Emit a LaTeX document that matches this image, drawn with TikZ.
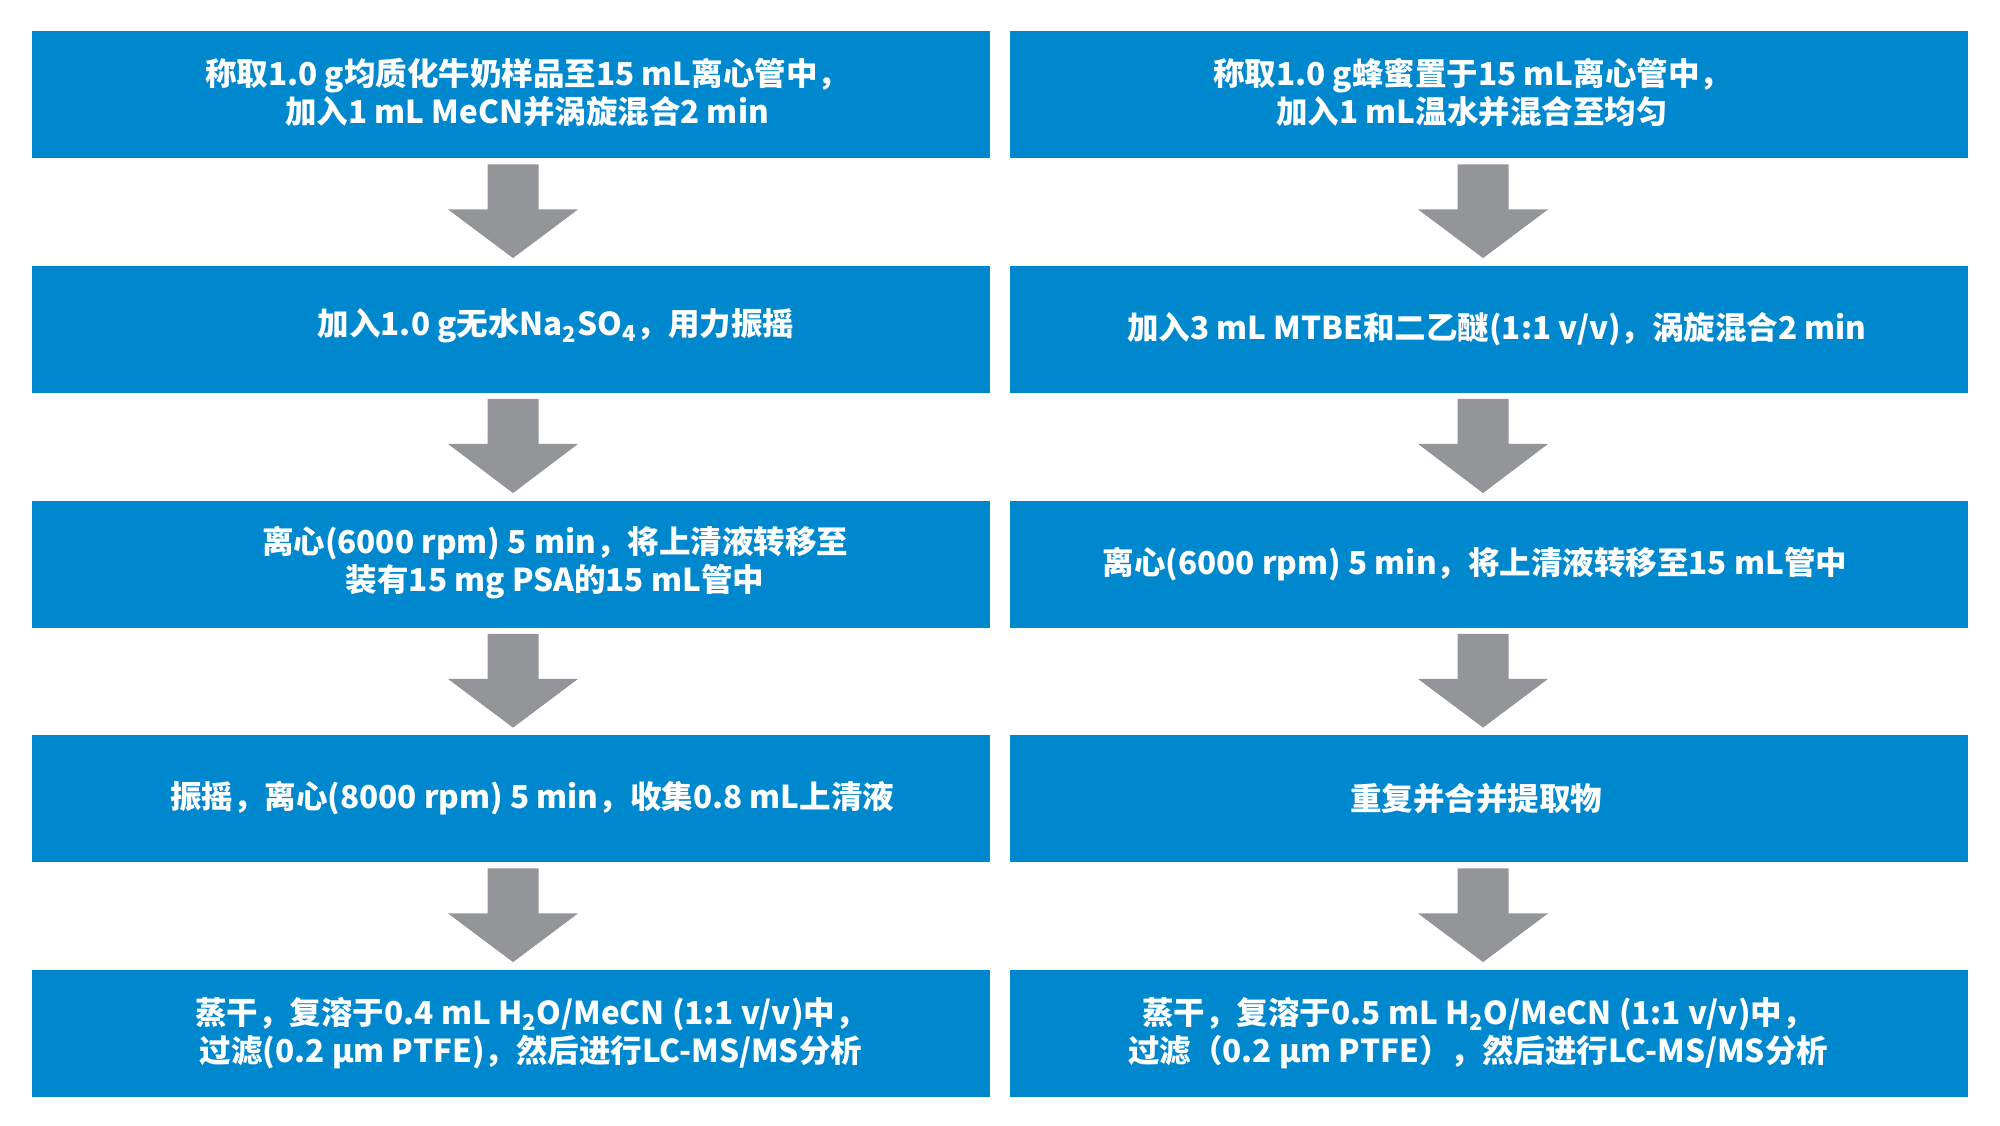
\documentclass[tikz,border=0pt]{standalone}
\usepackage{fontspec}
\newfontfamily\cjk{Noto Sans CJK SC}
\usetikzlibrary{calc}
\definecolor{boxblue}{RGB}{0,136,206}
\definecolor{arrowgrey}{RGB}{147,149,152}
\tikzset{
  stepbox/.style={fill=boxblue, draw=none, minimum width=479pt, minimum height=63.5pt, inner sep=0pt},
  steptext/.style={text=white, align=center, font=\cjk\bfseries\fontsize{15.75pt}{19pt}\selectfont, inner sep=0pt},
}
\begin{document}
\begin{tikzpicture}[x={(0.5pt,0)}, y={(0,-0.5pt)}]
\fill[white] (0,0) rectangle (2000,1125);
\useasboundingbox (0,0) rectangle (2000,1125);
% boxes
\foreach \i/\y in {1/94.5, 2/329, 3/564, 4/798.5, 5/1033} {
  \node[stepbox] (L\i) at (511,\y) {};
  \node[stepbox] (R\i) at (1489,\y) {};
}
% texts
\node[steptext] (tL1) at ($(L1.center)+(16,-2)$) {称取1.0 g均质化牛奶样品至15 mL离心管中，\\加入1 mL MeCN并涡旋混合2 min};
\node[steptext] (tL2) at ($(L2.center)+(45,-3)$) {加入1.0 g无水Na\textsubscript{2}SO\textsubscript{4}，用力振摇};
\node[steptext] (tL3) at ($(L3.center)+(44,-1)$) {离心(6000 rpm) 5 min，将上清液转移至\\装有15 mg PSA的15 mL管中};
\node[steptext] (tL4) at ($(L4.center)+(21,0)$) {振摇，离心(8000 rpm) 5 min，收集0.8 mL上清液};
\node[steptext] (tL5) at ($(L5.center)+(20,0)$) {蒸干，复溶于0.4 mL H\textsubscript{2}O/MeCN (1:1 v/v)中，\\过滤(0.2 µm PTFE)，然后进行LC-MS/MS分析};
\node[steptext] (tR1) at ($(R1.center)+(-17,-2)$) {称取1.0 g蜂蜜置于15 mL离心管中，\\加入1 mL温水并混合至均匀};
\node[steptext] (tR2) at ($(R2.center)+(8,0)$) {加入3 mL MTBE和二乙醚(1:1 v/v)，涡旋混合2 min};
\node[steptext] (tR3) at ($(R3.center)+(-14,0)$) {离心(6000 rpm) 5 min，将上清液转移至15 mL管中};
\node[steptext] (tR4) at ($(R4.center)+(-13,0)$) {重复并合并提取物};
\node[steptext] (tR5) at ($(R5.center)+(-11,0)$) {蒸干，复溶于0.5 mL H\textsubscript{2}O/MeCN (1:1 v/v)中，\\过滤（0.2 µm PTFE），然后进行LC-MS/MS分析};
% arrows
\foreach \c/\a/\b/\dx in {L/1/2/2, L/2/3/2, L/3/4/2, L/4/5/2, R/1/2/-6, R/2/3/-6, R/3/4/-6, R/4/5/-6} {
  \fill[arrowgrey]
    ($(\c\a.south)+(\dx-25.5,6)$) -- ($(\c\a.south)+(\dx+25.5,6)$) --
    ($(\c\a.south)+(\dx+25.5,51)$) -- ($(\c\a.south)+(\dx+65,51)$) --
    ($(\c\b.north)+(\dx,-7)$) --
    ($(\c\a.south)+(\dx-65,51)$) -- ($(\c\a.south)+(\dx-25.5,51)$) -- cycle;
}
\end{tikzpicture}
\end{document}
